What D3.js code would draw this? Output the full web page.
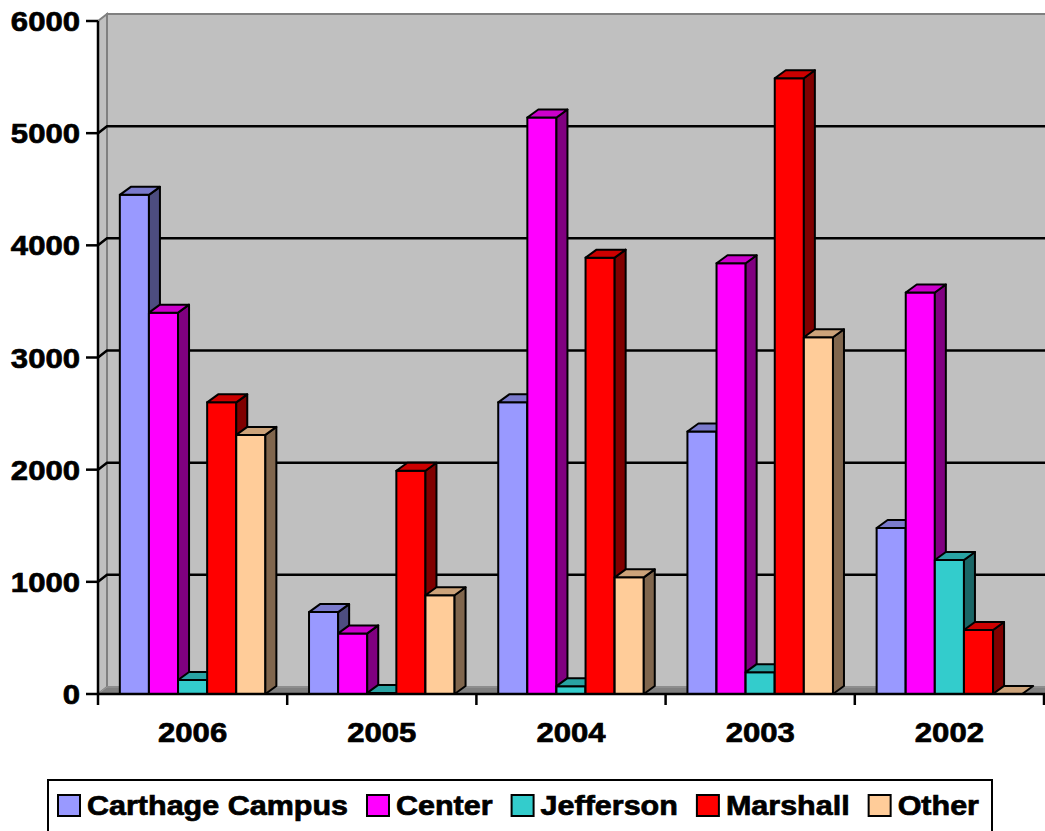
<!DOCTYPE html>
<html>
<head>
<meta charset="utf-8">
<script src="https://cdn.jsdelivr.net/npm/d3@7"></script>
<style>
  body { margin: 0; background: #fff; }
  text { font-family: "Liberation Sans", Arial, sans-serif; font-weight: bold;
         stroke: #000; stroke-width: 0.7px; fill: #000; }
</style>
</head>
<body>
<div id="chart"></div>
<script>
// data
var years = ['2006', '2005', '2004', '2003', '2002'];
var series = ['Carthage Campus', 'Center', 'Jefferson', 'Marshall', 'Other'];
var carthage = [4450, 730, 2600, 2340, 1480];
var center = [3400, 540, 5140, 3840, 3580];
var jefferson = [125, 10, 70, 195, 1195];
var marshall = [2600, 1990, 3890, 5490, 570];
var other = [2310, 880, 1040, 3180, 0];
var yTicks = [0, 1000, 2000, 3000, 4000, 5000, 6000];

var values = [carthage, center, jefferson, marshall, other];
var colors = ['#9999FF', '#FF00FF', '#33CCCC', '#FF0000', '#FFCC99'];

var width = 1045, height = 831;
var wallD = [9, -7];   // depth of walls
var barD = [11, -8];   // depth of bars
var sx = 1.11;         // horizontal stretch of axis text
var lsx = 1.13;        // horizontal stretch of legend text

var svg = d3.select('#chart')
  .append('svg')
  .attr('width', width)
  .attr('height', height);

var x0 = d3.scaleBand().domain(years).range([98, 1044]).paddingInner(0).paddingOuter(0);
var x1 = d3.scaleBand().domain(d3.range(series.length))
  .range([0, x0.bandwidth()]).paddingInner(0).paddingOuter(0.75);
var y = d3.scaleLinear().domain([0, 6000]).range([694, 21]);

function shade(c, k) {
  var r = d3.rgb(c);
  return d3.rgb(r.r * k, r.g * k, r.b * k).formatHex();
}
function poly(pts) { return 'M' + pts.map(p => p.join(',')).join('L') + 'Z'; }

var x0L = x0.range()[0], xR = 1060, yTop = y(6000), yBot = y(0);

// back wall
svg.append('rect')
  .attr('x', x0L + wallD[0]).attr('y', yTop + wallD[1])
  .attr('width', xR - x0L).attr('height', yBot - yTop)
  .attr('fill', '#C0C0C0').attr('stroke', '#808080').attr('stroke-width', 2);

// side wall
svg.append('path')
  .attr('d', poly([[x0L, yTop], [x0L + wallD[0], yTop + wallD[1]],
    [x0L + wallD[0], yBot + wallD[1]], [x0L, yBot]]))
  .attr('fill', '#C0C0C0').attr('stroke', '#808080').attr('stroke-width', 2);

// floor
svg.append('path')
  .attr('d', poly([[x0L, yBot], [x0L + wallD[0], yBot + wallD[1]],
    [xR, yBot + wallD[1]], [xR, yBot]]))
  .attr('fill', '#808080').attr('stroke', '#9a9a9a').attr('stroke-width', 1);

// gridlines
var grid = yTicks.filter(v => v > 0 && v < 6000);
svg.selectAll('path.grid')
  .data(grid)
  .enter()
  .append('path')
  .attr('class', 'grid')
  .attr('d', v => 'M' + x0L + ',' + y(v) + 'L' + (x0L + wallD[0]) + ',' + (y(v) + wallD[1]) +
    'L' + xR + ',' + (y(v) + wallD[1]))
  .attr('fill', 'none').attr('stroke', '#000').attr('stroke-width', 2.5);

// bars
var groups = svg.selectAll('g.year')
  .data(years)
  .enter()
  .append('g')
  .attr('class', 'year')
  .attr('transform', d => 'translate(' + x0(d) + ',0)');

groups.each(function(yr, yi) {
  var g = d3.select(this);
  series.forEach(function(s, si) {
    var v = values[si][yi];
    var bx = x1(si), bw = x1.bandwidth();
    var top = y(v), bot = y(0);
    var c = colors[si];
    var b = g.append('g');
    if (bot - top > 0.5) {
      b.append('rect')
        .attr('x', bx).attr('y', top).attr('width', bw).attr('height', bot - top)
        .attr('fill', c);
      b.append('path')
        .attr('d', poly([[bx + bw, top], [bx + bw + barD[0], top + barD[1]],
          [bx + bw + barD[0], bot + barD[1]], [bx + bw, bot]]))
        .attr('fill', shade(c, 0.5));
    }
    b.append('path')
      .attr('d', poly([[bx, top], [bx + barD[0], top + barD[1]],
        [bx + bw + barD[0], top + barD[1]], [bx + bw, top]]))
      .attr('fill', shade(c, 0.8));
    b.selectAll('*').attr('stroke', '#000').attr('stroke-width', 2).attr('stroke-linejoin', 'round');
  });
});

// y axis
svg.append('line')
  .attr('x1', x0L).attr('x2', x0L).attr('y1', yTop).attr('y2', yBot)
  .attr('stroke', '#000').attr('stroke-width', 2.5);
svg.selectAll('line.ytick')
  .data(yTicks)
  .enter()
  .append('line')
  .attr('class', 'ytick')
  .attr('x1', x0L - 12).attr('x2', x0L)
  .attr('y1', d => y(d)).attr('y2', d => y(d))
  .attr('stroke', '#000').attr('stroke-width', 2.5);
svg.selectAll('text.ylab')
  .data(yTicks)
  .enter()
  .append('text')
  .attr('class', 'ylab')
  .attr('transform', d => 'translate(80,' + (y(d) + 10) + ') scale(' + sx + ',1)')
  .attr('text-anchor', 'end')
  .style('font-size', '28px')
  .text(d => d);

// x axis
svg.append('line')
  .attr('x1', x0L).attr('x2', 1046).attr('y1', yBot).attr('y2', yBot)
  .attr('stroke', '#000').attr('stroke-width', 2.5);
var xTickPos = years.map(d => x0(d)).concat([x0.range()[1]]);
svg.selectAll('line.xtick')
  .data(xTickPos)
  .enter()
  .append('line')
  .attr('class', 'xtick')
  .attr('x1', d => d).attr('x2', d => d)
  .attr('y1', yBot).attr('y2', yBot + 11)
  .attr('stroke', '#000').attr('stroke-width', 2.5);
svg.selectAll('text.xlab')
  .data(years)
  .enter()
  .append('text')
  .attr('class', 'xlab')
  .attr('transform', d => 'translate(' + (x0(d) + x0.bandwidth() / 2) + ',742) scale(' + sx + ',1)')
  .attr('text-anchor', 'middle')
  .style('font-size', '28px')
  .text(d => d);

// legend
var legend = svg.append('g');
legend.append('rect')
  .attr('x', 48).attr('y', 780).attr('width', 944).attr('height', 70)
  .attr('fill', '#fff').attr('stroke', '#000').attr('stroke-width', 2);
var lx = 58;
series.forEach(function(s, i) {
  legend.append('rect')
    .attr('x', lx).attr('y', 795).attr('width', 22).attr('height', 21)
    .attr('fill', colors[i]).attr('stroke', '#000').attr('stroke-width', 2);
  var t = legend.append('text')
    .attr('transform', 'translate(' + (lx + 29) + ',815) scale(' + lsx + ',1)')
    .style('font-size', '27px')
    .text(s);
  lx = lx + 29 + t.node().getComputedTextLength() * lsx + 19;
});
</script>
</body>
</html>
